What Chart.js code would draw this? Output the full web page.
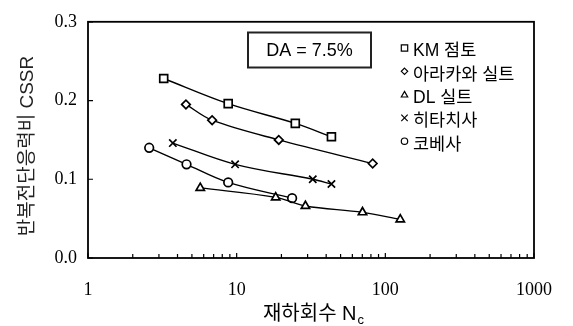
<!DOCTYPE html>
<html>
<head>
<meta charset="utf-8">
<script src="https://cdn.jsdelivr.net/npm/chart.js@4/dist/chart.umd.min.js"></script>
<style>
  html, body { margin: 0; padding: 0; background: #fff; }
  #wrap { width: 573px; height: 326px; }
</style>
</head>
<body>
<div id="wrap"><canvas id="c" width="573" height="326"></canvas></div>
<script>
// Cyclic stress ratio vs. number of loading cycles (DA = 7.5%)
const seriesNames = ['KM 점토', '아라카와 실트', 'DL 실트', '히타치사', '코베사'];
const pointStyles = ['rect', 'rectRot', 'triangle', 'crossRot', 'circle'];

const kmN       = [3.23, 8.77, 24.8, 43.4];
const kmCSSR    = [0.228, 0.196, 0.171, 0.154];
const arakawaN    = [4.56, 6.84, 19.2, 82.2];
const arakawaCSSR = [0.195, 0.175, 0.150, 0.120];
const dlN       = [5.69, 18.3, 29.0, 70.2, 126];
const dlCSSR    = [0.089, 0.077, 0.066, 0.058, 0.049];
const hitachiN    = [3.72, 9.76, 32.5, 43.4];
const hitachiCSSR = [0.146, 0.119, 0.100, 0.094];
const kobeN     = [2.58, 4.60, 8.77, 23.6];
const kobeCSSR  = [0.140, 0.119, 0.096, 0.076];

const xMajorTicks = [1, 10, 100, 1000];
const xMinorTicks = [2, 3, 4, 5, 6, 7, 8, 9, 20, 30, 40, 50, 60, 70, 80, 90, 200, 300, 400, 500, 600, 700, 800, 900];
const yTicks = [0.0, 0.1, 0.2, 0.3];

const annotationText = 'DA = 7.5%';
const xTitle = '재하회수 N';
const xTitleSub = 'c';
const yTitle = '반복전단응력비 CSSR';

const seriesN = [kmN, arakawaN, dlN, hitachiN, kobeN];
const seriesV = [kmCSSR, arakawaCSSR, dlCSSR, hitachiCSSR, kobeCSSR];
const pointSizes = [5.6, 4.3, 4.8, 5.2, 4.3];

const sansFont = '"Liberation Sans", Arial, "Noto Sans CJK KR", sans-serif';
const serifFont = '"Liberation Serif", "Times New Roman", serif';

const datasets = seriesNames.map((name, i) => ({
  label: name,
  data: seriesN[i].map((n, k) => ({ x: n, y: seriesV[i][k] })),
  showLine: true,
  tension: 0.35,
  borderColor: '#000',
  borderWidth: 1.4,
  pointStyle: pointStyles[i],
  pointRadius: pointSizes[i],
  pointBorderWidth: 1.7,
  pointBackgroundColor: '#fff',
  pointBorderColor: '#000',
  fill: false
}));

function drawMarker(ctx, style, x, y, r) {
  ctx.beginPath();
  if (style === 'rect') {
    ctx.rect(x - r, y - r, 2 * r, 2 * r);
  } else if (style === 'rectRot') {
    ctx.moveTo(x, y - r); ctx.lineTo(x + r, y); ctx.lineTo(x, y + r); ctx.lineTo(x - r, y); ctx.closePath();
  } else if (style === 'triangle') {
    ctx.moveTo(x, y - r); ctx.lineTo(x + r, y + r * 0.75); ctx.lineTo(x - r, y + r * 0.75); ctx.closePath();
  } else if (style === 'crossRot') {
    ctx.moveTo(x - r, y - r); ctx.lineTo(x + r, y + r);
    ctx.moveTo(x + r, y - r); ctx.lineTo(x - r, y + r);
  } else {
    ctx.arc(x, y, r, 0, Math.PI * 2);
  }
  ctx.stroke();
}

const decorPlugin = {
  id: 'decor',
  afterDraw(chart) {
    const ctx = chart.ctx;
    const a = chart.chartArea;
    const xs = chart.scales.x, ys = chart.scales.y;
    ctx.save();
    // frame
    ctx.strokeStyle = '#000';
    ctx.lineWidth = 1.8;
    ctx.strokeRect(a.left, a.top, a.right - a.left, a.bottom - a.top);
    // inward ticks on the bottom axis
    ctx.lineWidth = 1.2;
    ctx.beginPath();
    xMajorTicks.forEach(v => {
      const px = xs.getPixelForValue(v);
      ctx.moveTo(px, a.bottom); ctx.lineTo(px, a.bottom - 5);
    });
    xMinorTicks.forEach(v => {
      const px = xs.getPixelForValue(v);
      ctx.moveTo(px, a.bottom); ctx.lineTo(px, a.bottom - 4);
    });
    // inward ticks on the left axis
    yTicks.forEach(v => {
      const py = ys.getPixelForValue(v);
      ctx.moveTo(a.left, py); ctx.lineTo(a.left + 5, py);
    });
    ctx.stroke();

    // DA annotation box
    ctx.lineWidth = 2;
    ctx.strokeStyle = '#222';
    ctx.strokeRect(248, 32.5, 123, 35);
    ctx.fillStyle = '#000';
    ctx.font = '18px ' + sansFont;
    ctx.textAlign = 'center';
    ctx.textBaseline = 'middle';
    ctx.fillText(annotationText, 309.5, 51);

    // legend
    ctx.textAlign = 'left';
    ctx.font = '17.5px ' + sansFont;
    ctx.lineWidth = 1.2;
    ctx.strokeStyle = '#000';
    seriesNames.forEach((name, i) => {
      const cy = 51.5 + i * 23.3;
      drawMarker(ctx, pointStyles[i], 404.5, cy - 3.5, 3.2);
      ctx.fillText(name, 413, cy);
    });

    // x axis title with subscript
    ctx.font = '20px ' + sansFont;
    const wMain = ctx.measureText(xTitle).width;
    ctx.font = '13px ' + sansFont;
    const wSub = ctx.measureText(xTitleSub).width;
    const startX = 313 - (wMain + wSub) / 2;
    ctx.font = '20px ' + sansFont;
    ctx.textBaseline = 'alphabetic';
    ctx.fillText(xTitle, startX, 320);
    ctx.font = '13px ' + sansFont;
    ctx.fillText(xTitleSub, startX + wMain + 1, 324);

    // y axis title
    ctx.translate(28, 146);
    ctx.rotate(-Math.PI / 2);
    ctx.font = '19px ' + sansFont;
    ctx.textAlign = 'center';
    ctx.textBaseline = 'middle';
    ctx.fillStyle = '#222';
    ctx.fillText(yTitle, 0, 0);
    ctx.restore();
  }
};

new Chart(document.getElementById('c'), {
  type: 'scatter',
  data: { datasets },
  options: {
    responsive: false,
    animation: false,
    layout: { padding: { left: 0, right: 31, top: 20, bottom: 0 } },
    plugins: { legend: { display: false }, tooltip: { enabled: false } },
    scales: {
      x: {
        type: 'logarithmic',
        min: 1, max: 1000,
        afterBuildTicks: s => { s.ticks = xMajorTicks.map(v => ({ value: v })); },
        afterFit: s => { s.height = 68; },
        grid: { display: false, drawTicks: false },
        border: { display: false },
        ticks: {
          autoSkip: false, maxRotation: 0, padding: 21,
          color: '#000',
          font: { family: serifFont, size: 18 },
          callback: v => String(v)
        }
      },
      y: {
        min: 0, max: 0.3,
        afterBuildTicks: s => { s.ticks = yTicks.map(v => ({ value: v })); },
        afterFit: s => { s.width = 88; },
        grid: { display: false, drawTicks: false },
        border: { display: false },
        ticks: {
          padding: 11,
          color: '#000',
          font: { family: serifFont, size: 18 },
          callback: v => v.toFixed(1)
        }
      }
    }
  },
  plugins: [decorPlugin]
});
</script>
</body>
</html>
